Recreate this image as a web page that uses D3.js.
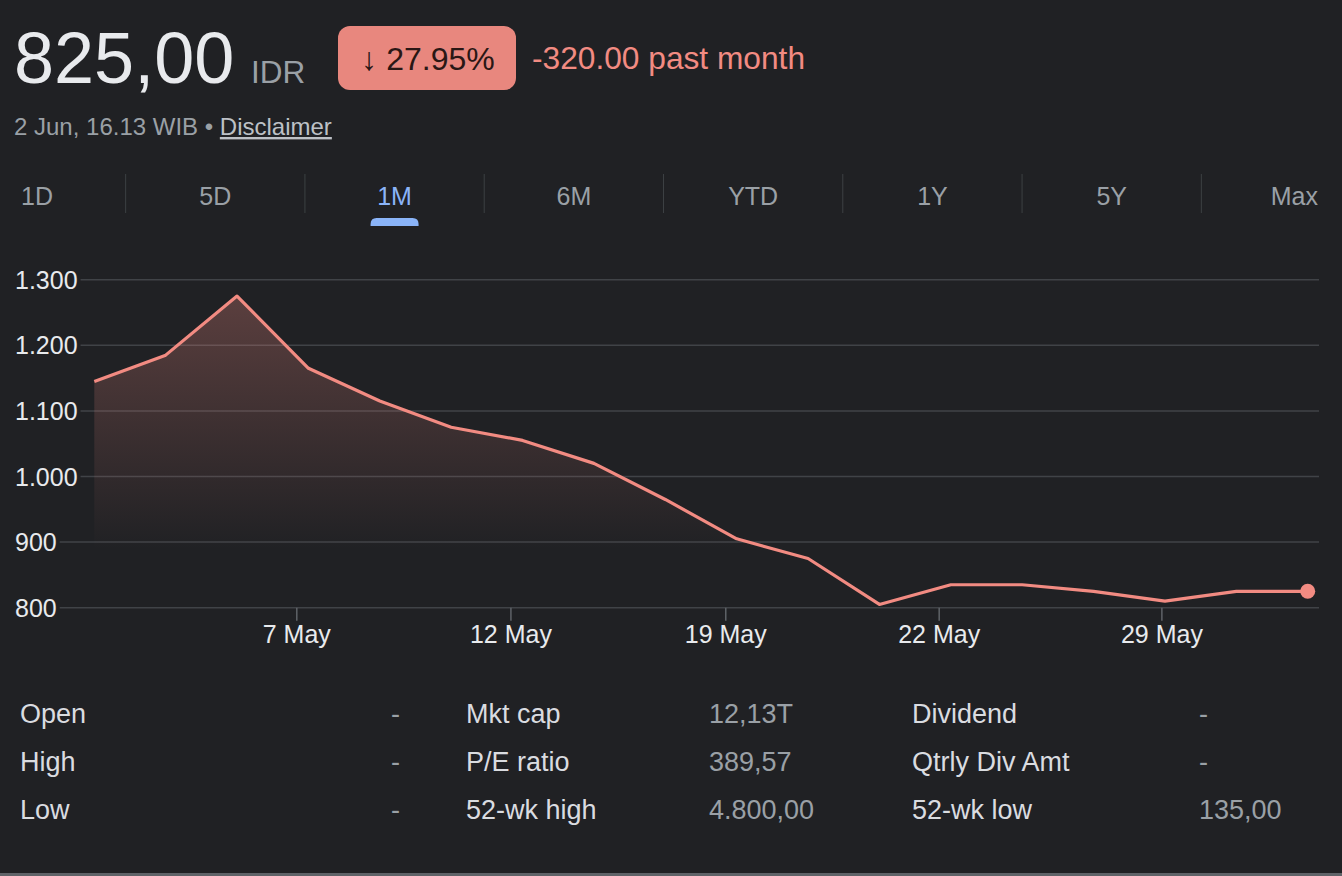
<!DOCTYPE html>
<html>
<head>
<meta charset="utf-8">
<script src="https://cdn.jsdelivr.net/npm/d3@7"></script>
<style>
  html, body { margin: 0; padding: 0; background: #202124; }
  svg { display: block; font-family: "Liberation Sans", Arial, Helvetica, sans-serif; }
</style>
</head>
<body>
<script>
// closing prices, one per trading day in the 1M window
const prices = [1145, 1185, 1275, 1165, 1115, 1075, 1055, 1020, 965, 905,
                875, 805, 835, 835, 825, 810, 825, 825];
// date ticks, placed in trading-day index units
const tickIndex = [2.83, 5.83, 8.84, 11.83, 14.95];
const tickLabels = ["7 May", "12 May", "19 May", "22 May", "29 May"];
const yTicks = [800, 900, 1000, 1100, 1200, 1300];

const tabs = ["1D", "5D", "1M", "6M", "YTD", "1Y", "5Y", "Max"];
const activeTab = "1M";

const statRows = [
  ["Open", "-", "Mkt cap", "12,13T", "Dividend", "-"],
  ["High", "-", "P/E ratio", "389,57", "Qtrly Div Amt", "-"],
  ["Low", "-", "52-wk high", "4.800,00", "52-wk low", "135,00"]
];

const price = "825,00";
const currency = "IDR";
const changePct = "\u2193 27.95%";
const changeAbs = "-320.00 past month";

const width = 1342;
const height = 876;
const red = "#f28b82";
const fmt = d3.formatLocale({ decimal: ",", thousands: ".", grouping: [3] }).format(",");

const svg = d3.select("body")
  .append("svg")
  .attr("width", width)
  .attr("height", height);

svg.append("rect").attr("width", width).attr("height", height).attr("fill", "#202124");
svg.append("rect").attr("y", 873).attr("width", width).attr("height", 3).attr("fill", "#5f6368");

// header
svg.append("text").attr("x", 14).attr("y", 83)
  .style("font-size", "72px").style("fill", "#e8eaed").text(price);
svg.append("text").attr("x", 251).attr("y", 83)
  .style("font-size", "31.5px").style("fill", "#9aa0a6").text(currency);

svg.append("rect")
  .attr("x", 338).attr("y", 26).attr("width", 178).attr("height", 64)
  .attr("rx", 12).attr("fill", "#e8877e");
svg.append("text").attr("x", 428).attr("y", 70)
  .style("font-size", "32px").style("fill", "#2a1715")
  .style("text-anchor", "middle").text(changePct);
svg.append("text").attr("x", 532).attr("y", 69)
  .style("font-size", "31.7px").style("fill", red).text(changeAbs);

const sub = svg.append("text").attr("x", 14).attr("y", 135)
  .style("font-size", "24px").style("fill", "#9aa0a6");
sub.append("tspan").text("2 Jun, 16.13 WIB \u2022 ");
sub.append("tspan").style("fill", "#bdc1c6").style("text-decoration", "underline").text("Disclaimer");

// range tabs
const tabX = d3.scalePoint().domain(tabs).range([36, 1291]);
const step = tabX.step();

svg.append("g").selectAll("line")
  .data(tabs.slice(0, -1))
  .enter()
  .append("line")
  .attr("x1", (d) => tabX(d) + step / 2)
  .attr("x2", (d) => tabX(d) + step / 2)
  .attr("y1", 174).attr("y2", 213)
  .attr("stroke", "#3c4043").attr("stroke-width", 1);

svg.append("g").selectAll("text")
  .data(tabs)
  .enter()
  .append("text")
  .attr("x", (d, i) => i === 0 ? 21 : i === tabs.length - 1 ? 1318 : tabX(d))
  .attr("y", 205)
  .style("text-anchor", (d, i) => i === 0 ? "start" : i === tabs.length - 1 ? "end" : "middle")
  .style("font-size", "25px")
  .style("fill", (d) => d === activeTab ? "#8ab4f8" : "#9aa0a6")
  .text((d) => d);

const ax = tabX(activeTab);
svg.append("path")
  .attr("d", `M${ax - 24},226 L${ax - 24},224 Q${ax - 24},218 ${ax - 18},218 L${ax + 18},218 Q${ax + 24},218 ${ax + 24},224 L${ax + 24},226 Z`)
  .attr("fill", "#8ab4f8");

// chart
const x = d3.scaleLinear().domain([0, prices.length - 1]).range([94.3, 1307.7]);
const y = d3.scaleLinear().domain([800, 1300]).range([607.7, 279.7]);

const grid = svg.append("g");
yTicks.forEach((t) => {
  const label = grid.append("text")
    .attr("x", 15).attr("y", y(t) + 9)
    .style("font-size", "25px").style("fill", "#e8eaed")
    .text(fmt(t));
  const w = label.node().getComputedTextLength();
  grid.append("line")
    .attr("x1", 15 + w + 3).attr("x2", 1319)
    .attr("y1", y(t)).attr("y2", y(t))
    .attr("stroke", "#404347").attr("stroke-width", 1.5);
});

const xAxis = d3.axisBottom(x)
  .tickValues(tickIndex)
  .tickFormat((d, i) => tickLabels[i])
  .tickSize(13)
  .tickPadding(5);

const xg = svg.append("g")
  .attr("transform", `translate(0, ${y(800)})`)
  .call(xAxis);
xg.select(".domain").remove();
xg.selectAll("line").attr("stroke", "#5f6368").attr("stroke-width", 1.5);
xg.selectAll("text")
  .style("font-size", "25px")
  .style("font-family", "\"Liberation Sans\", Arial, sans-serif")
  .style("fill", "#e8eaed");

const defs = svg.append("defs");
const grad = defs.append("linearGradient")
  .attr("id", "fillGrad")
  .attr("gradientUnits", "userSpaceOnUse")
  .attr("x1", 0).attr("x2", 0)
  .attr("y1", y(1300)).attr("y2", 550);
grad.append("stop").attr("offset", 0).attr("stop-color", red).attr("stop-opacity", 0.3);
grad.append("stop").attr("offset", 1).attr("stop-color", red).attr("stop-opacity", 0);

const area = d3.area()
  .x((d, i) => x(i))
  .y0(y(800))
  .y1((d) => y(d));

svg.append("path")
  .datum(prices)
  .attr("d", area)
  .attr("fill", "url(#fillGrad)");

const line = d3.line()
  .x((d, i) => x(i))
  .y((d) => y(d));

svg.append("path")
  .datum(prices)
  .attr("d", line)
  .attr("fill", "none")
  .attr("stroke", red)
  .attr("stroke-width", 3.2)
  .attr("stroke-linejoin", "round");

svg.append("circle")
  .attr("cx", x(prices.length - 1))
  .attr("cy", y(prices[prices.length - 1]))
  .attr("r", 7.5)
  .attr("fill", red);

// key stats
const colX = [20, 391, 466, 709, 912, 1199];
const stats = svg.append("g");
statRows.forEach((row, r) => {
  stats.selectAll(null)
    .data(row)
    .enter()
    .append("text")
    .attr("x", (d, i) => colX[i])
    .attr("y", 723 + r * 48)
    .style("font-size", "27px")
    .style("fill", (d, i) => i % 2 === 0 ? "#dadce0" : "#9aa0a6")
    .text((d) => d);
});
</script>
</body>
</html>
